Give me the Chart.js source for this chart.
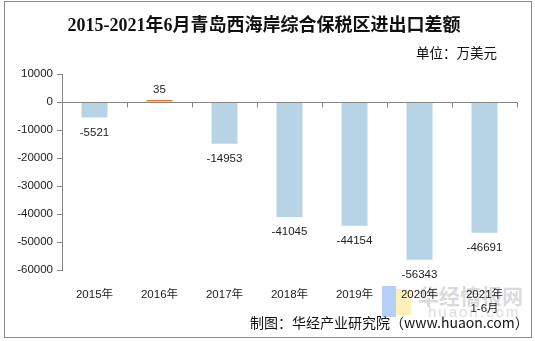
<!DOCTYPE html>
<html>
<head>
<meta charset="utf-8">
<script src="https://cdn.jsdelivr.net/npm/chart.js@4"></script>
<style>
  body { margin: 0; background: #fff; }
  #wrap { position: relative; width: 535px; height: 341px; overflow: hidden; }
  #frame { position: absolute; left: 4px; top: 1px; width: 526px; height: 335px; border: 1px solid #8c8c8c; }
  #title { position: absolute; left: 0; width: 528px; top: 10px; text-align: center;
    font: bold 18px "Liberation Serif", "Noto Sans CJK SC", serif; color: #111; }
  #unit { position: absolute; right: 38px; top: 42px; font: 13.5px "Noto Sans CJK SC", sans-serif; color: #111; }
  #mark1 { position: absolute; left: 418px; top: 280px; font: bold 21px "Noto Sans CJK SC", sans-serif; color: rgba(150,150,150,0.35); }
  #mark2 { position: absolute; left: 428px; top: 303px; font: 15px "Liberation Sans", sans-serif; color: rgba(150,150,150,0.35); letter-spacing: 2px; }
  #logoA { position: absolute; left: 382px; top: 286px; width: 14px; height: 31px; background: rgba(120,170,240,0.55); }
  #logoB { position: absolute; left: 396px; top: 289px; width: 15px; height: 26px; background: rgba(255,225,130,0.55); }
  #source { position: absolute; left: 250px; top: 312px; font: 14px "Noto Sans CJK SC", sans-serif; color: #111; }
  canvas { position: absolute; left: 0; top: 0; }
</style>
</head>
<body>
<div id="wrap">
  <div id="frame"></div>
  <div id="logoA"></div><div id="logoB"></div>
  <div id="mark1">华经情报网</div>
  <div id="mark2">huaon.com</div>
  <canvas id="c" width="535" height="341"></canvas>
  <div id="title">2015-2021年6月青岛西海岸综合保税区进出口差额</div>
  <div id="unit">单位：万美元</div>
  <div id="source">制图：华经产业研究院（www.huaon.com）</div>
</div>
<script>
const years = ["2015年", "2016年", "2017年", "2018年", "2019年", "2020年", ["2021年", "1-6月"]];
const balance = [-5521, 35, -14953, -41045, -44154, -56343, -46691];
const yTicks = [10000, 0, -10000, -20000, -30000, -40000, -50000, -60000];

const BLUE = "#b7d4e7";
const ORANGE = "#ed7d31";
const AXIS = "#868686";

// zero line with category tick marks, drawn like the original x axis
const zeroLine = {
  id: "zeroLine",
  afterDatasetsDraw(chart) {
    const { ctx, chartArea, scales } = chart;
    const y0 = Math.round(scales.y.getPixelForValue(0)) + 0.5;
    ctx.save();
    ctx.strokeStyle = AXIS;
    ctx.lineWidth = 1;
    ctx.beginPath();
    ctx.moveTo(chartArea.left, y0);
    ctx.lineTo(chartArea.right, y0);
    const step = (chartArea.right - chartArea.left) / years.length;
    for (let i = 1; i <= years.length; i++) {
      const x = Math.round(chartArea.left + step * i) + 0.5;
      ctx.moveTo(x, y0);
      ctx.lineTo(x, y0 + 5);
    }
    ctx.stroke();
    ctx.restore();
  }
};

// value labels: above positive bars, below negative ones
const valueLabels = {
  id: "valueLabels",
  afterDatasetsDraw(chart) {
    const { ctx } = chart;
    const meta = chart.getDatasetMeta(0);
    ctx.save();
    ctx.font = '11.5px "Liberation Sans", Arial, sans-serif';
    ctx.fillStyle = "#222";
    ctx.textAlign = "center";
    ctx.textBaseline = "middle";
    meta.data.forEach((bar, i) => {
      const v = balance[i];
      const y = v >= 0 ? bar.y - 10 : bar.y + 15;
      ctx.fillText(String(v), bar.x, y);
    });
    ctx.restore();
  }
};

new Chart(document.getElementById("c"), {
  type: "bar",
  data: {
    labels: years,
    datasets: [{
      data: balance,
      backgroundColor: balance.map(v => v >= 0 ? ORANGE : BLUE),
      borderWidth: 0,
      barPercentage: 0.4,
      categoryPercentage: 1,
      minBarLength: 2
    }]
  },
  options: {
    responsive: false,
    animation: false,
    devicePixelRatio: 1,
    layout: { padding: { left: 0, right: 18, top: 74, bottom: 0 } },
    plugins: { legend: { display: false }, tooltip: { enabled: false } },
    scales: {
      x: {
        grid: { display: false },
        border: { display: false },
        ticks: {
          color: "#222",
          font: { size: 11.5, family: '"Liberation Sans", "Noto Sans CJK SC", sans-serif', lineHeight: 1.2 },
          padding: 10,
          maxRotation: 0,
          autoSkip: false
        },
        afterFit: s => { s.height = 71; }
      },
      y: {
        min: -60000,
        max: 10000,
        afterBuildTicks: s => { s.ticks = yTicks.map(v => ({ value: v })); },
        grid: { drawOnChartArea: false, tickLength: 5, color: AXIS },
        border: { color: AXIS },
        ticks: {
          color: "#222",
          font: { size: 11.5, family: '"Liberation Sans", Arial, sans-serif' },
          padding: 4,
          callback: v => String(v)
        },
        afterFit: s => { s.width = 62; }
      }
    }
  },
  plugins: [zeroLine, valueLabels]
});
</script>
</body>
</html>
